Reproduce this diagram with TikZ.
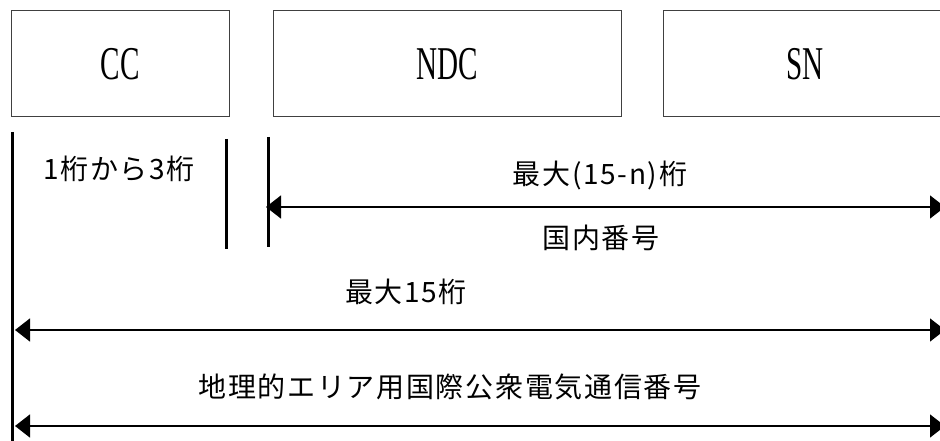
\documentclass[tikz,border=0pt]{standalone}
\usepackage{fontspec}
\setmainfont[LetterSpace=6]{Noto Sans CJK JP}
\newfontfamily\boxfont[FakeStretch=0.62]{Liberation Serif}
\usetikzlibrary{arrows.meta}

\begin{document}
\begin{tikzpicture}[x=1pt,y=-1pt,
		field/.style={draw=black!75,line width=1pt,minimum height=106pt,inner sep=0pt,font=\boxfont\fontsize{47}{50}\selectfont},
		bar/.style={line width=3pt},
		span/.style={line width=1.5pt,{Triangle[length=15pt,width=23pt]}-{Triangle[length=15pt,width=23pt]}},
		lbl/.style={inner sep=0pt,font=\fontsize{28}{31}\selectfont}]
		\useasboundingbox (0,0) rectangle (940,441);
		% number parts
		\node[field,minimum width=218pt] (cc) at (120,64) {CC};
		\node[field,minimum width=348pt] (ndc) at (447,64) {NDC};
		\node[field,minimum width=284pt] (sn) at (805,64) {SN};
		% limits
		\coordinate (start top) at (12,132);
		\coordinate (start bot) at (12,441);
		\coordinate (cc end top) at (226,139);
		\coordinate (cc end bot) at (226,249);
		\coordinate (ndc start top) at (268,137);
		\coordinate (ndc start bot) at (268,247);
		\draw[bar] (start top) -- (start bot);
		\draw[bar] (cc end top) -- (cc end bot);
		\draw[bar] (ndc start top) -- (ndc start bot);
		% lengths
		\coordinate (nsn a) at (266,207);
		\coordinate (nsn b) at (945,207);
		\coordinate (all a) at (15,330);
		\coordinate (all b) at (945,330);
		\coordinate (geo a) at (15,426);
		\coordinate (geo b) at (945,426);
		\draw[span] (nsn a) -- (nsn b);
		\draw[span] (all a) -- (all b);
		\draw[span] (geo a) -- (geo b);
		\node[lbl] (cc len) at (119,169) {1桁から3桁};
		\node[lbl] (nsn len) at (600,175) {最大(15-n)桁};
		\node[lbl] (nsn name) at (601,238) {国内番号};
		\node[lbl] (all len) at (406,292) {最大15桁};
		\node[lbl] (geo name) at (450,387) {地理的エリア用国際公衆電気通信番号};
\end{tikzpicture}
\end{document}
